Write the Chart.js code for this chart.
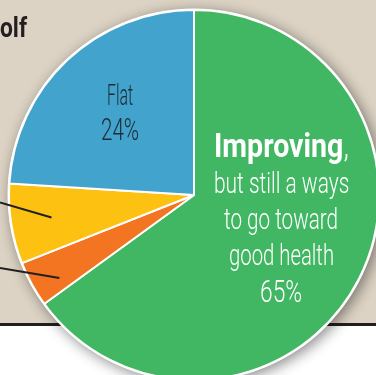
<!DOCTYPE html>
<html><head><meta charset="utf-8">
<script src="https://cdn.jsdelivr.net/npm/chart.js@4/dist/chart.umd.min.js"></script>
<style>
html,body{margin:0;padding:0;}
body{width:376px;height:375px;overflow:hidden;position:relative;background:#fff;}
#bg{position:absolute;left:0;top:0;width:376px;height:323px;background:#dcd3c4;}
#rule{position:absolute;left:0;top:323px;width:376px;height:3px;background:#231f20;}
#c{position:absolute;left:0;top:0;}
.t{position:absolute;white-space:nowrap;transform-origin:left top;}
</style></head>
<body>
<div id="bg"></div><div id="rule"></div>
<canvas id="c" width="400" height="400"></canvas>
<div id="labels"></div>
<script>
// ---- data ----
const categories = ['Improving', 'Worse', 'Unknown', 'Flat'];
const values = [65, 4, 7, 24];
const colors = ['#42b763', '#f37421', '#fdc111', '#42a3cc'];

const shadowPlugin = {
  id: 'shadow',
  beforeDatasetsDraw(chart) {
    const a = chart.getDatasetMeta(0).data[0];
    const ctx = chart.ctx;
    ctx.save();
    ctx.shadowColor = 'rgba(0,0,0,0.45)';
    ctx.shadowBlur = 14;
    ctx.shadowOffsetX = 3;
    ctx.shadowOffsetY = 3;
    ctx.fillStyle = '#fff';
    ctx.beginPath();
    ctx.arc(a.x, a.y, a.outerRadius + 1.5, 0, Math.PI * 2);
    ctx.fill();
    ctx.restore();
  }
};

// leader lines: [index, angle fraction within slice, radius fraction, slope (deg)]
const leaders = [[2, 0.5, 0.78, 16.4], [1, 0.3, 0.855, 9.6]];
const leaderPlugin = {
  id: 'leaders',
  afterDatasetsDraw(chart) {
    const ctx = chart.ctx;
    const meta = chart.getDatasetMeta(0);
    ctx.save();
    ctx.strokeStyle = '#231f20';
    ctx.lineWidth = 2;
    leaders.forEach(([i, f, rf, s]) => {
      const a = meta.data[i];
      const ang = a.startAngle + f * (a.endAngle - a.startAngle);
      const ex = a.x + Math.cos(ang) * a.outerRadius * rf;
      const ey = a.y + Math.sin(ang) * a.outerRadius * rf;
      const sy = ey - Math.tan(s * Math.PI / 180) * ex;
      ctx.beginPath();
      ctx.moveTo(0, sy);
      ctx.lineTo(ex, ey);
      ctx.stroke();
    });
    ctx.restore();
  }
};

new Chart(document.getElementById('c'), {
  type: 'pie',
  data: { labels: categories, datasets: [{ data: values, backgroundColor: colors, borderColor: '#fff', borderWidth: 2 }] },
  options: {
    responsive: false, animation: false, devicePixelRatio: 1,
    layout: { padding: { left: 8, top: 9, right: 20, bottom: 19 } },
    plugins: { legend: { display: false }, tooltip: { enabled: false } }
  },
  plugins: [shadowPlugin, leaderPlugin]
});

// text lines: [text, centerX or left, baseline, targetWidth, weight, size, color, align]
const LIGHT = '"Roboto", "Liberation Sans Narrow", sans-serif';
const lines = [
  ['olf', 0, 37, 27, 700, 27, '#231f20', 'left'],
  ['Flat', 120, 105, 26, 300, 30, '#1d2b36', 'center'],
  ['24%', 120, 140, 38, 300, 32, '#1d2b36', 'center'],
  ['Improving,', 281, 157, 135, 700, 33, '#fff', 'center'],
  ['but still a ways', 281, 193, 135, 300, 29, '#fff', 'center'],
  ['to go toward', 281, 229, 114, 300, 29, '#fff', 'center'],
  ['good health', 281, 265, 105, 300, 29, '#fff', 'center'],
  ['65%', 281, 302, 42, 300, 32, '#fff', 'center']
];
function place() {
  const mc = document.createElement('canvas').getContext('2d');
  const host = document.getElementById('labels');
  lines.forEach(([txt, x, base, w, wt, sz, col, al]) => {
    const fontStr = wt + ' ' + sz + 'px ' + LIGHT;
    mc.font = fontStr;
    const m = mc.measureText(txt);
    const asc = m.fontBoundingBoxAscent, desc = m.fontBoundingBoxDescent;
    const d = document.createElement('div');
    d.className = 't';
    d.style.font = fontStr;
    d.style.lineHeight = (asc + desc) + 'px';
    d.style.color = col;
    if (txt === 'Improving,') {
      d.innerHTML = 'Improving<span style="font-weight:300">,</span>';
    } else d.textContent = txt;
    host.appendChild(d);
    const actual = d.offsetWidth;
    const sc = w / actual;
    const left = al === 'center' ? x - w / 2 : x;
    d.style.left = left + 'px';
    d.style.top = (base - asc) + 'px';
    d.style.transform = 'scaleX(' + sc + ')';
  });
}
if (document.fonts && document.fonts.ready) document.fonts.ready.then(place); else place();
</script>
</body></html>
